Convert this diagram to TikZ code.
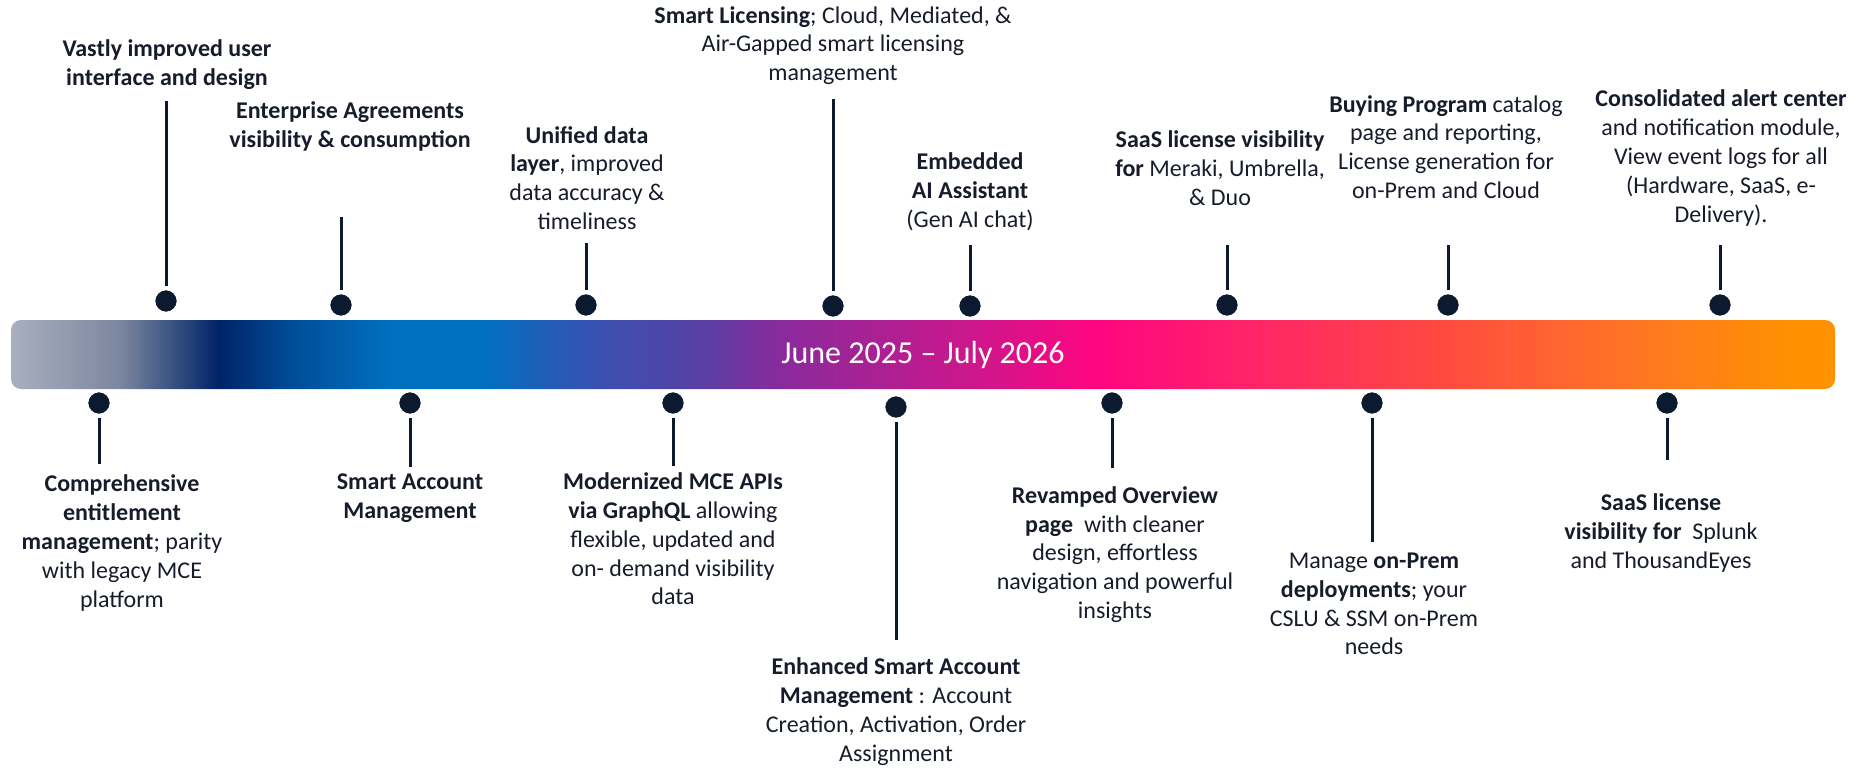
\documentclass[tikz,border=0pt]{standalone}
\usepackage{fontspec}
\setmainfont{Carlito}
\definecolor{navy}{HTML}{0B1A2E}
\definecolor{txt}{HTML}{161C2A}
\definecolor{g0}{HTML}{A9AFBF}
\definecolor{g1}{HTML}{7C88A0}
\definecolor{g2}{HTML}{002468}
\definecolor{g3}{HTML}{00509C}
\definecolor{g4}{HTML}{0070C0}
\definecolor{g5}{HTML}{0070C0}
\definecolor{g6}{HTML}{3A50B0}
\definecolor{g7}{HTML}{5840A4}
\definecolor{g8}{HTML}{8A2A9C}
\definecolor{g9}{HTML}{C8188C}
\definecolor{g10}{HTML}{FF0580}
\definecolor{g11}{HTML}{FF2468}
\definecolor{g12}{HTML}{FF4A40}
\definecolor{g13}{HTML}{FF6530}
\definecolor{g14}{HTML}{FF7D1C}
\definecolor{g15}{HTML}{FF9000}
\definecolor{g16}{HTML}{FF9200}
\pgfdeclarehorizontalshading{tlgrad}{100bp}{color(0bp)=(g0); color(25bp)=(g0); color(27.96bp)=(g1); color(30.68bp)=(g2); color(32.9bp)=(g3); color(35.45bp)=(g4); color(37.89bp)=(g5); color(41.13bp)=(g6); color(43.87bp)=(g7); color(46.17bp)=(g8); color(51.06bp)=(g9); color(54.73bp)=(g10); color(58.95bp)=(g11); color(64.25bp)=(g12); color(67.4bp)=(g13); color(70.58bp)=(g14); color(73.74bp)=(g15); color(75bp)=(g16); color(100bp)=(g16)}
\tikzset{
  lbl/.style={align=center, text=txt, font=\fontsize{24}{28.8}\selectfont, inner sep=0pt},
  dot/.style={circle, fill=navy, draw=white, line width=2.5pt, minimum size=24pt, inner sep=0pt},
  stem/.style={draw=navy, line width=3pt},
  bar/.style={shade, shading=tlgrad, rounded corners=10pt, minimum width=1824pt, minimum height=69pt, inner sep=0pt, text=white, font=\fontsize{32}{36}\selectfont},
}
\begin{document}
\begin{tikzpicture}[x=1pt,y=-1pt]
\useasboundingbox (0,0) rectangle (1854,768);
\node[bar] (bar) at (923,354.5) {June 2025 -- July 2026};

% top milestones
\node[dot] (d1) at (166,301) {};
\node[dot] (d2) at (341,305) {};
\node[dot] (d3) at (586,305) {};
\node[dot] (d4) at (833,306) {};
\node[dot] (d5) at (970,306) {};
\node[dot] (d6) at (1227,305) {};
\node[dot] (d7) at (1448,305) {};
\node[dot] (d8) at (1720,305) {};
% bottom milestones
\node[dot] (d9) at (99,403) {};
\node[dot] (d10) at (410,403) {};
\node[dot] (d11) at (673,403) {};
\node[dot] (d12) at (896,407) {};
\node[dot] (d13) at (1112,403) {};
\node[dot] (d14) at (1372,403) {};
\node[dot] (d15) at (1667,403) {};

% labels
\node[lbl] (t1) at (167,65) {\textbf{Vastly improved user}\\\textbf{interface and design}};
\node[lbl] (t2) at (350,126.5) {\textbf{Enterprise Agreements}\\\textbf{visibility \& consumption}};
\node[lbl] (t3) at (587,178) {\textbf{Unified data}\\\textbf{layer}, improved\\data accuracy \&\\timeliness};
\node[lbl] (t4) at (833,45.5) {\textbf{Smart Licensing}; Cloud, Mediated, \&\\Air-Gapped smart licensing\\management};
\node[lbl] (t5) at (970,192) {\textbf{Embedded}\\\textbf{AI Assistant}\\(Gen AI chat)};
\node[lbl] (t6) at (1220,168) {\textbf{SaaS license visibility}\\\textbf{for} Meraki, Umbrella,\\\& Duo};
\node[lbl] (t7) at (1446,147) {\textbf{Buying Program} catalog\\page and reporting,\\License generation for\\on-Prem and Cloud};
\node[lbl] (t8) at (1721,158) {\textbf{Consolidated alert center}\\and notification module,\\View event logs for all\\(Hardware, SaaS, e-\\Delivery).};
\node[lbl] (t9) at (122,543) {\textbf{Comprehensive}\\\textbf{entitlement}\\\textbf{management}; parity\\with legacy MCE\\platform};
\node[lbl] (t10) at (410,498) {\textbf{Smart Account}\\\textbf{Management}};
\node[lbl] (t11) at (673,539) {\textbf{Modernized MCE APIs}\\\textbf{via GraphQL} allowing\\flexible, updated and\\on- demand visibility\\data};
\node[lbl] (t12) at (896,711.5) {\textbf{Enhanced Smart Account}\\\textbf{Management} : Account\\Creation, Activation, Order\\Assignment};
\node[lbl] (t13) at (1115,554.5) {\textbf{Revamped Overview}\\\textbf{page}~ with cleaner\\design, effortless\\navigation and powerful\\insights};
\node[lbl] (t14) at (1374,604) {Manage \textbf{on-Prem}\\\textbf{deployments}; your\\CSLU \& SSM on-Prem\\needs};
\node[lbl] (t15) at (1661,533) {\textbf{SaaS license}\\\textbf{visibility for}~ Splunk\\and ThousandEyes};

% stems
\coordinate (c1) at (166,101);
\coordinate (c2) at (341,217);
\coordinate (c3) at (586,243);
\coordinate (c4) at (833,99);
\coordinate (c5) at (970,245);
\coordinate (c6) at (1227,245);
\coordinate (c7) at (1448,245);
\coordinate (c8) at (1720,245);
\coordinate (c9) at (99,464);
\coordinate (c10) at (410,467);
\coordinate (c11) at (673,466);
\coordinate (c12) at (896,640);
\coordinate (c13) at (1112,468);
\coordinate (c14) at (1372,542);
\coordinate (c15) at (1667,460);
\foreach \i in {1,...,8} {\draw[stem, shorten >=2pt] (c\i) -- (d\i.north);}
\foreach \i in {9,...,15} {\draw[stem, shorten <=2pt] (d\i.south) -- (c\i);}
\end{tikzpicture}
\end{document}
